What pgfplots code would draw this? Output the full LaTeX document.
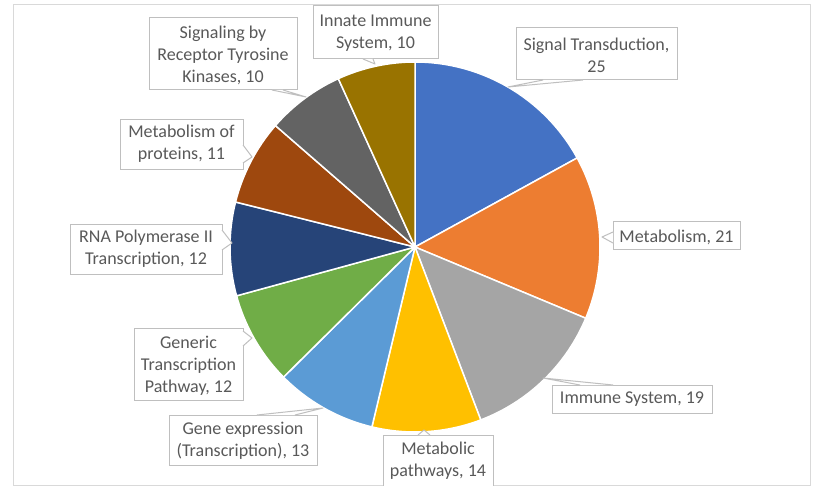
\documentclass[border=0pt]{standalone}
\usepackage{pgfplots}
\pgfplotsset{compat=1.18}
\usepackage{fontspec}
\setmainfont{Carlito}
\definecolor{cA}{HTML}{4472C4}
\definecolor{cB}{HTML}{ED7D31}
\definecolor{cC}{HTML}{A5A5A5}
\definecolor{cD}{HTML}{FFC000}
\definecolor{cE}{HTML}{5B9BD5}
\definecolor{cF}{HTML}{70AD47}
\definecolor{cG}{HTML}{264478}
\definecolor{cH}{HTML}{9E480E}
\definecolor{cI}{HTML}{636363}
\definecolor{cJ}{HTML}{997300}
\definecolor{textc}{HTML}{595959}
\definecolor{boxc}{HTML}{BFBFBF}
\definecolor{framec}{HTML}{D9D9D9}
\tikzset{txt/.style={text=textc, font=\fontsize{18}{22}\selectfont, inner sep=0pt, align=center}}
\newcommand{\callout}[9]{% x0 y0 x1 y1 b1x b1y tipx tipy b2(x,y as "x,y")
  \draw[boxc, fill=white, line width=1pt] (axis cs:#1,#2) rectangle (axis cs:#3,#4);
  \fill[white] (axis cs:#5,#6) -- (axis cs:#7,#8) -- (axis cs:#9) -- cycle;
  \draw[boxc, line width=1pt, line join=round] (axis cs:#5,#6) -- (axis cs:#7,#8) -- (axis cs:#9);
}
\begin{document}
\begin{tikzpicture}
\useasboundingbox (0,0) rectangle (819pt,486pt);
\fill[white] (0,0) rectangle (819pt,486pt);
\begin{axis}[x=1pt, y=1pt, xmin=0, xmax=819, ymin=0, ymax=486, y dir=reverse,
  hide axis, clip=false, anchor=south west, at={(0pt,0pt)}]
\draw[framec, line width=1pt] (axis cs:13,5) rectangle (axis cs:810,485);
% pie data (values, clockwise from top)
\gdef\total{0}
\foreach \v in {25,21,19,14,13,12,12,11,10,10} {\pgfmathparse{\total+\v}\xdef\total{\pgfmathresult}}
\gdef\cum{0}
\foreach \v/\c in {25/cA,21/cB,19/cC,14/cD,13/cE,12/cF,12/cG,11/cH,10/cI,10/cJ} {
  \pgfmathsetmacro\a{90-\cum/\total*360}
  \pgfmathsetmacro\b{90-(\cum+\v)/\total*360}
  \edef\tmp{\noexpand\filldraw[fill=\c, draw=white, line width=1.5pt, line join=round]
     (axis cs:415,247) -- ([shift={(\a:185pt)}]axis cs:415,247)
     arc[start angle=\a, end angle=\b, radius=185pt] -- cycle;}
  \tmp
  \pgfmathparse{\cum+\v}\xdef\cum{\pgfmathresult}
}
% callouts
\callout{516}{28}{677}{80}{543}{80}{508}{87}{583,80}
\node[txt] at (axis cs:596.5,55.5) {Signal Transduction,\\25};
\callout{613}{222}{740}{250}{613}{232}{602}{237}{613,243}
\node[txt] at (axis cs:676.5,237) {Metabolism, 21};
\callout{552}{385}{712}{413}{580}{385}{543}{378}{613,385}
\node[txt] at (axis cs:632,399.5) {Immune System, 19};
\callout{383}{435}{493}{500}{418}{435}{424}{430}{430,435}
\node[txt] at (axis cs:438,461) {Metabolic\\pathways, 14};
\callout{169}{415}{317}{465}{257}{415}{323}{408}{295,415}
\node[txt] at (axis cs:243,441) {Gene expression\\(Transcription), 13};
\callout{134}{328}{243}{400}{243}{331}{252}{338}{243,346}
\node[txt] at (axis cs:188.5,366) {Generic\\Transcription\\Pathway, 12};
\callout{70}{225}{222}{275}{222}{230}{232}{243}{222,250}
\node[txt] at (axis cs:146,249) {RNA Polymerase II\\Transcription, 12};
\callout{120}{120}{243}{170}{243}{145}{252}{157}{243,163}
\node[txt] at (axis cs:181.5,144) {Metabolism of\\proteins, 11};
\callout{149}{18}{297}{90}{272}{90}{306}{97}{283,90}
\node[txt] at (axis cs:223,55.5) {Signaling by\\Receptor Tyrosine\\Kinases, 10};
\callout{313}{6}{438}{59}{363}{59}{375}{64}{373,59}
\node[txt] at (axis cs:375.5,33) {Innate Immune\\System, 10};
\end{axis}
\end{tikzpicture}
\end{document}
